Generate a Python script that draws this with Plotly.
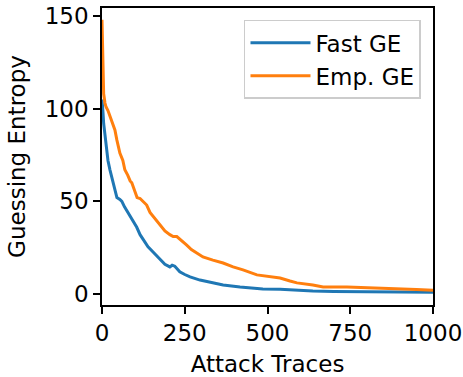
import plotly.graph_objects as go

# Fast GE (blue)
fast_x = [0, 1, 3, 5, 9, 14, 18, 24, 30, 38, 45, 54, 60, 68, 75, 79, 86, 94, 105, 115,
          127, 139, 155, 175, 190, 205, 212, 220, 235, 250, 266, 296, 326, 366, 417,
          486, 538, 568, 637, 700, 800, 900, 1000]
fast_y = [105, 100, 98, 92, 85, 78, 72, 67, 63, 58, 52, 51, 50, 47, 45, 44, 42, 39, 36, 32,
          29, 25.5, 22.5, 18.5, 16, 14.6, 15.5, 15, 12, 10.5, 9.2, 7.5, 6.5, 4.9, 3.8,
          2.7, 2.5, 2.2, 1.6, 1.4, 1.2, 1.1, 1.0]

# Empirical GE (orange)
emp_x = [0, 2, 3, 5, 9, 12, 18, 25, 33, 39, 45, 54, 63, 69, 78, 85, 90, 100, 106, 115,
         124, 135, 145, 160, 175, 190, 205, 215, 226, 240, 256, 270, 287, 305, 335, 366,
         396, 426, 468, 517, 538, 568, 589, 637, 668, 740, 800, 840, 900, 950, 1000]
emp_y = [148, 130, 115, 108, 103, 101, 99, 95.5, 92, 88.5, 83, 76, 72, 67, 64, 61, 60, 55,
         52, 51.5, 50, 48, 44, 40.5, 37, 34, 32, 31, 31, 29, 26.4, 24, 22, 20, 18.3, 16.7,
         14.6, 13, 10.3, 9.2, 8.6, 7, 6, 4.9, 3.8, 3.8, 3.5, 3.2, 2.7, 2.4, 2.0]

x_ticks = [0, 250, 500, 750, 1000]
y_ticks = [0, 50, 100, 150]

font = dict(family="DejaVu Sans", size=23, color="black")

fig = go.Figure()
fig.add_trace(go.Scatter(x=fast_x, y=fast_y, mode="lines", name="Fast GE",
                         line=dict(color="#1f77b4", width=3), legendgroup="a"))
fig.add_trace(go.Scatter(x=emp_x, y=emp_y, mode="lines", name="Emp. GE",
                         line=dict(color="#ff7f0e", width=3), legendgroup="b"))

axis_common = dict(showline=True, mirror=True, linecolor="black", linewidth=1.5,
                   ticks="outside", ticklen=7, tickwidth=1.5, tickcolor="black",
                   showgrid=False, zeroline=False, tickfont=font)

fig.update_layout(
    width=463, height=377,
    margin=dict(l=102, r=30, t=8, b=72, autoexpand=False),
    paper_bgcolor="white", plot_bgcolor="white",
    font=font,
    xaxis=dict(range=[0, 1000], tickvals=x_ticks,
               title=dict(text="Attack Traces", font=font, standoff=15), **axis_common),
    yaxis=dict(range=[-5.94, 154.3], tickvals=y_ticks,
               title=dict(text="Guessing Entropy", font=font, standoff=13), **axis_common),
    legend=dict(x=0.9637, y=0.96, xanchor="right", yanchor="top",
                bgcolor="rgba(255,255,255,0.8)", bordercolor="#cccccc", borderwidth=1.5,
                font=font, traceorder="grouped", tracegroupgap=0, itemwidth=60),
    showlegend=True,
)

fig.write_html("out.html", config={"displayModeBar": False},
               post_script="document.body.style.margin='0';")
